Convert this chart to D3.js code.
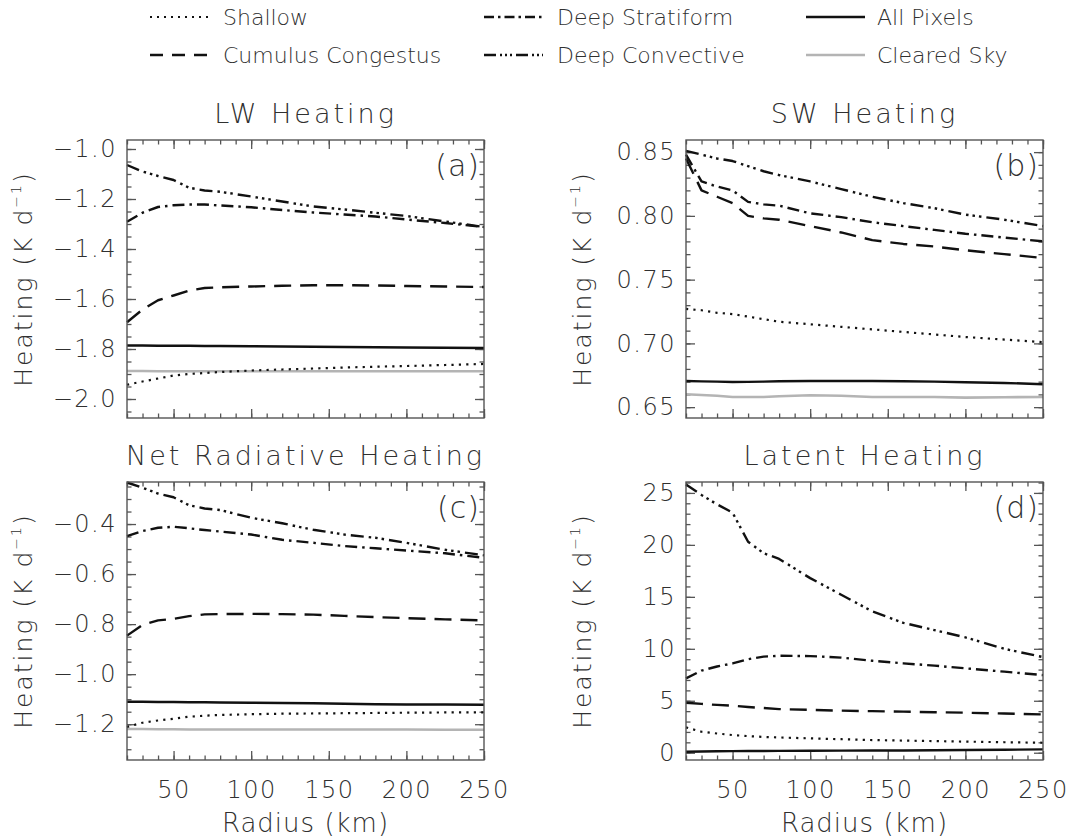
<!DOCTYPE html>
<html><head><meta charset="utf-8">
<script src="https://cdn.jsdelivr.net/npm/d3@7"></script>
<style>
body{margin:0;background:#fff}
text{font-family:"DejaVu Sans",sans-serif;font-weight:200;fill:#303030}
</style>
</head><body>
<svg id="chart" width="1070" height="838"></svg>
<script>
// ---------------- data ----------------
const radius = [20,30,40,50,60,70,80,100,120,140,160,180,200,225,250];
const xMajorTicks = [50,100,150,200,250];

const seriesNames = ["Shallow","Cumulus Congestus","Deep Stratiform","Deep Convective","All Pixels","Cleared Sky"];
const panelTitles = ["LW Heating","SW Heating","Net Radiative Heating","Latent Heating"];
const panelLetters = ["(a)","(b)","(c)","(d)"];

// (a) LW heating
const lwShallow    = [-1.943,-1.930,-1.918,-1.906,-1.900,-1.896,-1.892,-1.886,-1.882,-1.878,-1.874,-1.871,-1.868,-1.864,-1.860];
const lwCongestus  = [-1.693,-1.642,-1.605,-1.586,-1.566,-1.556,-1.553,-1.550,-1.547,-1.545,-1.545,-1.546,-1.548,-1.550,-1.552];
const lwStratiform = [-1.291,-1.255,-1.232,-1.225,-1.222,-1.222,-1.226,-1.233,-1.244,-1.254,-1.262,-1.270,-1.282,-1.296,-1.312];
const lwConvective = [-1.064,-1.090,-1.108,-1.124,-1.155,-1.166,-1.171,-1.190,-1.210,-1.230,-1.242,-1.255,-1.268,-1.290,-1.312];
const lwAll        = [-1.786,-1.786,-1.787,-1.787,-1.787,-1.788,-1.788,-1.789,-1.790,-1.791,-1.792,-1.793,-1.794,-1.795,-1.796];
const lwClear      = [-1.888,-1.888,-1.889,-1.889,-1.889,-1.889,-1.889,-1.889,-1.889,-1.889,-1.889,-1.889,-1.889,-1.889,-1.889];
const lwTicks      = [-2.0,-1.8,-1.6,-1.4,-1.2,-1.0];

// (b) SW heating
const swShallow    = [0.727,0.726,0.724,0.723,0.721,0.719,0.717,0.715,0.713,0.711,0.709,0.707,0.705,0.703,0.701];
const swCongestus  = [0.845,0.820,0.815,0.810,0.800,0.798,0.797,0.792,0.787,0.781,0.778,0.776,0.773,0.770,0.767];
const swStratiform = [0.848,0.827,0.823,0.820,0.811,0.809,0.808,0.802,0.799,0.795,0.792,0.789,0.786,0.783,0.780];
const swConvective = [0.851,0.848,0.845,0.843,0.839,0.835,0.832,0.827,0.821,0.815,0.810,0.806,0.801,0.797,0.792];
const swAll        = [0.6705,0.6702,0.6700,0.6697,0.6698,0.6700,0.6703,0.6705,0.6705,0.6705,0.6703,0.6700,0.6695,0.6690,0.6680];
const swClear      = [0.6601,0.6595,0.6590,0.6580,0.6580,0.6580,0.6585,0.6593,0.6590,0.6580,0.6580,0.6580,0.6575,0.6578,0.6580];
const swTicks      = [0.65,0.70,0.75,0.80,0.85];

// (c) Net radiative heating
const netShallow    = [-1.211,-1.194,-1.185,-1.178,-1.170,-1.166,-1.163,-1.160,-1.158,-1.157,-1.156,-1.155,-1.154,-1.153,-1.153];
const netCongestus  = [-0.846,-0.803,-0.785,-0.779,-0.768,-0.761,-0.760,-0.759,-0.760,-0.762,-0.767,-0.772,-0.776,-0.781,-0.785];
const netStratiform = [-0.448,-0.428,-0.415,-0.411,-0.417,-0.424,-0.430,-0.442,-0.463,-0.475,-0.488,-0.497,-0.506,-0.517,-0.535];
const netConvective = [-0.234,-0.255,-0.278,-0.293,-0.325,-0.338,-0.344,-0.375,-0.397,-0.423,-0.442,-0.455,-0.475,-0.503,-0.525];
const netAll        = [-1.110,-1.110,-1.111,-1.111,-1.112,-1.112,-1.113,-1.114,-1.115,-1.116,-1.118,-1.120,-1.121,-1.121,-1.122];
const netClear      = [-1.219,-1.219,-1.220,-1.220,-1.221,-1.221,-1.221,-1.221,-1.221,-1.221,-1.221,-1.221,-1.221,-1.222,-1.222];
const netTicks      = [-1.2,-1.0,-0.8,-0.6,-0.4];

// (d) Latent heating (cleared sky not shown)
const lhShallow    = [2.44,2.02,1.85,1.70,1.60,1.52,1.47,1.38,1.30,1.22,1.17,1.12,1.07,1.01,0.96];
const lhCongestus  = [4.81,4.70,4.60,4.52,4.40,4.30,4.20,4.12,4.05,4.00,3.95,3.90,3.85,3.77,3.69];
const lhStratiform = [7.15,7.90,8.30,8.59,9.00,9.25,9.33,9.30,9.15,8.85,8.60,8.38,8.12,7.80,7.47];
const lhConvective = [25.8,24.8,23.9,23.1,20.3,19.2,18.65,16.8,15.2,13.6,12.5,11.8,11.1,10.0,9.2];
const lhAll        = [0.10,0.12,0.14,0.15,0.16,0.17,0.18,0.19,0.20,0.21,0.22,0.24,0.26,0.29,0.32];
const lhClear      = null;
const lhTicks      = [0,5,10,15,20,25];

// ---------------- styles ----------------
const styles = [
  {color:"#111", width:2.2, plotDash:"2.2,5.2", legDash:"2,5"},
  {color:"#111", width:2.4, plotDash:"17,9",    legDash:"13,9"},
  {color:"#111", width:2.4, plotDash:"12,5,2.5,5", legDash:"10,4,2.5,4"},
  {color:"#111", width:2.4, plotDash:"13,5,2.5,4,2.5,4,2.5,5", legDash:"12,4,2,3,2,3,2,4"},
  {color:"#111", width:2.4, plotDash:null, legDash:null},
  {color:"#b4b4b4", width:2.6, plotDash:null, legDash:null}
];

const panels = [
  {left:127, top:140, domain:[-2.076,-0.964], ticks:lwTicks,  minorStep:0.05, fmt:d3.format(".1f"), data:[lwShallow,lwCongestus,lwStratiform,lwConvective,lwAll,lwClear]},
  {left:686, top:140, domain:[0.6415,0.8595], ticks:swTicks,  minorStep:0.01, fmt:d3.format(".2f"), data:[swShallow,swCongestus,swStratiform,swConvective,swAll,swClear]},
  {left:127, top:482, domain:[-1.343,-0.232], ticks:netTicks, minorStep:0.05, fmt:d3.format(".1f"), data:[netShallow,netCongestus,netStratiform,netConvective,netAll,netClear]},
  {left:686, top:482, domain:[-0.70,26.05],   ticks:lhTicks,  minorStep:1,    fmt:d3.format("d"),   data:[lhShallow,lhCongestus,lhStratiform,lhConvective,lhAll,lhClear]}
];
const W = 357, H = 278;

const svg = d3.select("#chart");

function minorTicks(domain, step){
  const out=[]; const lo=Math.ceil(domain[0]/step-1e-6), hi=Math.floor(domain[1]/step+1e-6);
  for(let i=lo;i<=hi;i++) out.push(+(i*step).toFixed(6));
  return out;
}

panels.forEach((p,pi)=>{
  const g = svg.append("g").attr("transform",`translate(${p.left},${p.top})`);
  const x = d3.scaleLinear().domain([20,250]).range([0,W]);
  const y = d3.scaleLinear().domain(p.domain).range([H,0]);

  const xMinor = d3.range(20,251,10);
  const yMinor = minorTicks(p.domain,p.minorStep);

  const axStyle = sel=>{
    sel.select(".domain").remove();
    sel.selectAll(".tick line").attr("stroke","#555").attr("stroke-width",1.3);
  };
  // minor ticks (inward)
  g.append("g").attr("transform",`translate(0,${H})`).call(d3.axisBottom(x).tickValues(xMinor).tickSize(-4.5).tickFormat("")).call(axStyle);
  g.append("g").call(d3.axisTop(x).tickValues(xMinor).tickSize(-4.5).tickFormat("")).call(axStyle);
  g.append("g").call(d3.axisLeft(y).tickValues(yMinor).tickSize(-4.5).tickFormat("")).call(axStyle);
  g.append("g").attr("transform",`translate(${W},0)`).call(d3.axisRight(y).tickValues(yMinor).tickSize(-4.5).tickFormat("")).call(axStyle);
  // major ticks
  const xb = g.append("g").attr("transform",`translate(0,${H})`)
    .call(d3.axisBottom(x).tickValues(xMajorTicks).tickSize(-9).tickPadding(21).tickFormat(pi>=2?d3.format("d"):"")).call(axStyle);
  g.append("g").call(d3.axisTop(x).tickValues(xMajorTicks).tickSize(-9).tickFormat("")).call(axStyle);
  const yl = g.append("g").call(d3.axisLeft(y).tickValues(p.ticks).tickSize(-9).tickPadding(10).tickFormat(p.fmt)).call(axStyle);
  g.append("g").attr("transform",`translate(${W},0)`).call(d3.axisRight(y).tickValues(p.ticks).tickSize(-9).tickFormat("")).call(axStyle);

  [xb, yl].forEach(a=>a.selectAll("text").attr("font-size",24).attr("letter-spacing",1.5)
    .attr("fill","#303030").attr("font-family","DejaVu Sans").attr("font-weight",200));

  // lines
  const line = d3.line().x((d,i)=>x(radius[i])).y(d=>y(d));
  const order = [5,0,1,2,3,4];
  order.forEach(si=>{
    const vals = p.data[si];
    if(!vals) return;
    const st = styles[si];
    g.append("path").datum(vals).attr("d",line).attr("fill","none")
      .attr("stroke",st.color).attr("stroke-width",st.width)
      .attr("stroke-dasharray",st.plotDash).attr("stroke-linejoin","round");
  });

  // box
  g.append("rect").attr("width",W).attr("height",H).attr("fill","none").attr("stroke","#555").attr("stroke-width",1.4);

  // title
  g.append("text").attr("x",W/2).attr("y",-17).attr("text-anchor","middle")
    .attr("font-size",27).attr("letter-spacing",3).text(panelTitles[pi]);
  // letter
  g.append("text").attr("x",W-4).attr("y",36).attr("text-anchor","end")
    .attr("font-size",30).attr("letter-spacing",1).text(panelLetters[pi]);
  // y label
  const yt = g.append("text").attr("transform",`translate(-95,${H/2}) rotate(-90)`)
    .attr("text-anchor","middle").attr("font-size",25).attr("letter-spacing",2);
  yt.append("tspan").text("Heating (K d");
  yt.append("tspan").attr("font-size",14).attr("dy",-11).text("−1");
  yt.append("tspan").attr("dy",11).text(")");
  // x label
  if(pi>=2){
    g.append("text").attr("x",W/2).attr("y",H+72).attr("text-anchor","middle")
      .attr("font-size",26).attr("letter-spacing",1).text("Radius (km)");
  }
});

// ---------------- legend ----------------
const legRows = [17,55,17,55,17,55];
const legLineX = [150,150,484,484,806,806];
const legTextX = [223,223,557,557,877,877];
const legLen = [60,60,59,59,59,59];
seriesNames.forEach((name,i)=>{
  const st = styles[i];
  svg.append("line").attr("x1",legLineX[i]).attr("x2",legLineX[i]+legLen[i]).attr("y1",legRows[i]).attr("y2",legRows[i])
    .attr("stroke",st.color).attr("stroke-width",st.width).attr("stroke-dasharray",st.legDash);
  svg.append("text").attr("x",legTextX[i]).attr("y",legRows[i]+8).attr("font-size",22).text(name);
});
</script>
</body></html>
